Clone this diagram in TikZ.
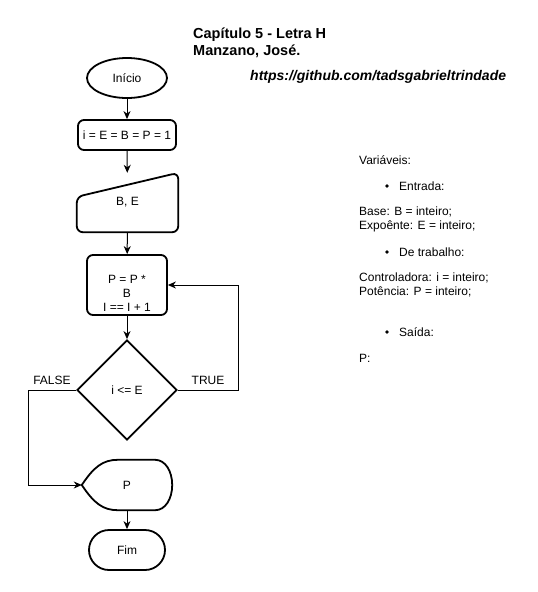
\documentclass[tikz,border=0pt]{standalone}
\usepackage{fontspec}
\setmainfont{Liberation Sans}
\usetikzlibrary{shapes.geometric,shapes.misc,arrows.meta,calc,positioning}
\tikzset{
    shp/.style={draw, line width=1.8pt, font=\fontsize{12}{14}\selectfont, align=center, inner sep=2pt},
    term/.style={shp, ellipse, minimum width=80pt, minimum height=40pt},
    stopbox/.style={shp, rounded rectangle, minimum width=80pt, minimum height=40pt},
    proc/.style={shp, rectangle, rounded corners=6pt},
    dec/.style={shp, diamond, aspect=1, minimum width=100pt, minimum height=100pt, inner sep=0pt},
    conn/.style={line width=1pt, -{Stealth[length=8pt,width=7pt,inset=2.5pt]}},
    txt/.style={font=\fontsize{12}{14}\selectfont, inner sep=0pt},
    note/.style={txt, anchor=west}
}
\begin{document}
\begin{tikzpicture}[x=1pt, y=-1pt]
\useasboundingbox (0,0) rectangle (538,592);
% header
\node[anchor=base west, inner sep=0pt, font=\bfseries\fontsize{14.5}{16}\selectfont] (title1) at (193,38.5) {Capítulo 5 - Letra H};
\node[anchor=base west, inner sep=0pt, font=\bfseries\fontsize{14.5}{16}\selectfont] (title2) at (193,55) {Manzano, José.};
\node[anchor=west, inner sep=0pt, font=\bfseries\itshape\fontsize{14}{16}\selectfont] (url) at (250,77) {https://github.com/tadsgabrieltrindade};
% flowchart
\node[term] (start) at (127,78) {Início};
\node[proc, minimum width=98pt, minimum height=30pt] (init) at (127,135) {i = E = B = P = 1};
\node[txt, minimum width=101pt, minimum height=59pt] (inp) at (127.5,202.5) {B, E};
\draw[line width=1.8pt, rounded corners=6pt] (inp.south west) -- ($(inp.north west)+(0,24)$) -- (inp.north east) -- (inp.south east) -- cycle;
\node[proc, minimum width=80pt, minimum height=60pt] (calc) at (127,285) {};
\node[txt, align=center] (calctxt) at (127,293) {P = P *\\B\\I == I + 1};
\node[dec] (test) at (127,390) {i <= E};
\node[txt, minimum width=90pt, minimum height=50pt] (out) at (127,485) {P};
\draw[line width=1.8pt] (out.west) .. controls +(12,-18) and +(-15,0) .. ($(out.north west)+(36,0)$)
    -- ($(out.north east)+(-17,0)$) .. controls +(10,0) and +(0,-14) .. (out.east)
    .. controls +(0,14) and +(10,0) .. ($(out.south east)+(-17,0)$)
    -- ($(out.south west)+(36,0)$) .. controls +(-15,0) and +(12,18) .. (out.west) -- cycle;
\node[stopbox] (stop) at (127,550) {Fim};
\coordinate (loop) at (238,390);
\coordinate (exit) at (28,390);
\draw[conn] (start) -- (init);
\draw[conn] (init) -- (inp);
\draw[conn] (inp) -- (calc);
\draw[conn] (calc) -- (test);
\draw[conn] (test.east) -- (loop) |- (calc.east);
\draw[conn] (test.west) -- (exit) |- (out.west);
\draw[conn] (out) -- (stop);
\node[txt] (true) at (208,380) {TRUE};
\node[txt] (false) at (52,380) {FALSE};
% variables
\foreach \y/\t [count=\i] in {160/{Variáveis:}, 212/{Base: B = inteiro;}, 226/{Expoênte: E = inteiro;}, 278/{Controladora: i = inteiro;}, 292/{Potência: P = inteiro;}, 358/{P:}}{
    \node[note] (var\i) at (359,\y) {\t};
}
\foreach \y/\t [count=\i] in {186/{Entrada:}, 252/{De trabalho:}, 332/{Saída:}}{
    \fill (387,\y) circle (1.9);
    \node[note] (sec\i) at (399,\y) {\t};
}
\end{tikzpicture}
\end{document}
